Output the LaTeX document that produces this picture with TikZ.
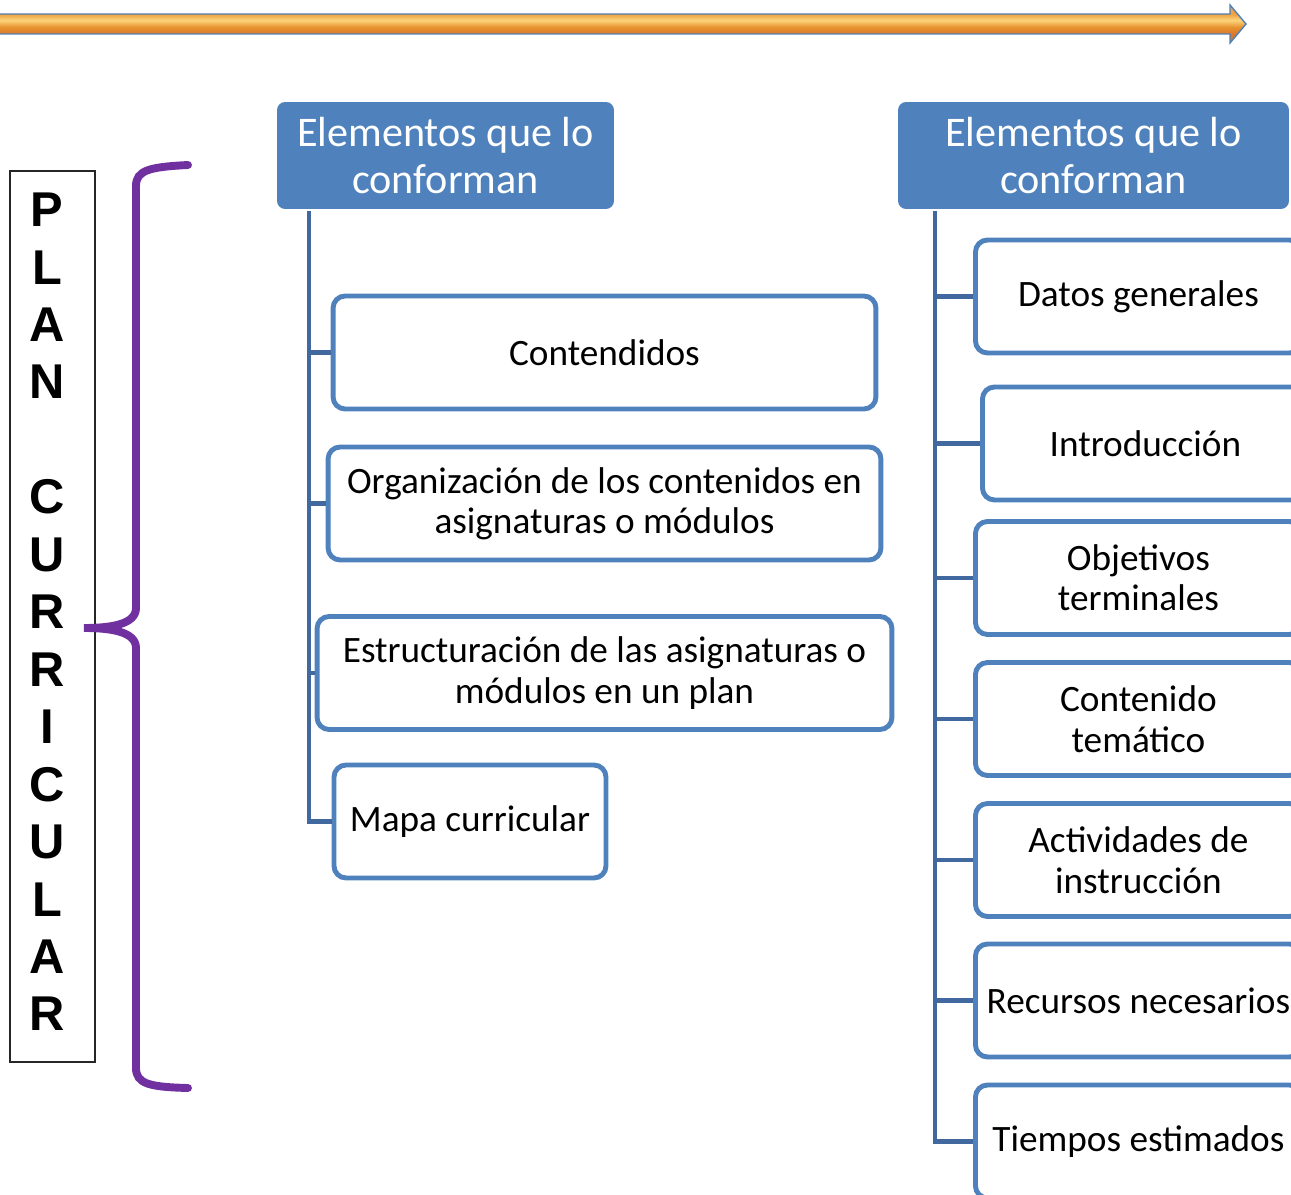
\documentclass[tikz,border=0pt]{standalone}
\usepackage{fontspec}
\setmainfont{Carlito}
\newfontfamily\arialfont{Liberation Sans}
\definecolor{azulcaja}{HTML}{4F81BD}
\definecolor{azulrama}{HTML}{41699F}
\definecolor{morado}{HTML}{7030A0}
\definecolor{flechaarr}{HTML}{EFA040}
\definecolor{flechamed}{HTML}{FBD47C}
\definecolor{flechanar}{HTML}{E8932F}
\definecolor{flechaab}{HTML}{D9782A}
\pgfdeclareverticalshading{flecha}{100bp}{color(0bp)=(flechaab); color(37bp)=(flechaab);
  color(46bp)=(flechanar); color(55bp)=(flechamed); color(63bp)=(flechaarr); color(100bp)=(flechaarr)}
\begin{document}
\begin{tikzpicture}[x=0.02cm,y=-0.02cm]
\tikzset{
    titulo/.style={fill=azulcaja, rounded corners=0.16cm, text=white, align=center,
        inner sep=0pt, minimum height=2.14cm, font=\fontsize{24}{26.6}\selectfont},
    caja/.style={draw=azulcaja, line width=2.8pt, fill=white, rounded corners=0.24cm,
        align=center, inner sep=0pt, minimum height=2.26cm, font=\fontsize{21.2}{23}\selectfont},
    cajader/.style={caja, anchor=west, minimum width=6.52cm},
    rama/.style={draw=azulrama, line width=2.8pt}
}
\clip (0,0) rectangle (1291,1195);
% flecha superior
\path[draw=azulcaja, line width=0.8pt, shading=flecha]
  (-5,14) -- (1230,14) -- (1230,5) -- (1246,24) -- (1230,43) -- (1230,34) -- (-5,34) -- cycle;
% columna de letras
\draw[black!85, line width=0.8pt] (10,171) rectangle (95,1062);
\node[align=center, inner sep=0pt, font=\arialfont\bfseries\fontsize{27.8}{32.7}\selectfont] (plan) at (47,612)
  {P\\L\\A\\N\\\mbox{}\\C\\U\\R\\R\\I\\C\\U\\L\\A\\R};
% llave
\draw[morado, line width=4.5pt, line cap=round]
  (188,165) .. controls (150,167) and (136,170) .. (136,186) -- (136,608)
  .. controls (136,624) and (112,628) .. (84,628)
  .. controls (112,628) and (136,632) .. (136,648) -- (136,1068)
  .. controls (136,1084) and (150,1087) .. (188,1088);
% rama izquierda
\node[titulo, minimum width=6.74cm] (hizq) at (445.5,155.5) {Elementos que lo\\conforman};
\node[caja, minimum width=10.86cm] (cont) at (604.5,352.5) {Contendidos};
\node[caja, minimum width=11.06cm] (org) at (604.5,503.5) {Organización de los contenidos en\\asignaturas o módulos};
\node[caja, minimum width=11.5cm] (estr) at (604.5,673) {Estructuración de las asignaturas o\\módulos en un plan};
\node[caja, minimum width=5.44cm] (mapa) at (470,821.5) {Mapa curricular};
\coordinate (tizq) at (309,211);
\draw[rama] (tizq) |- (mapa.west);
\foreach \n in {cont,org,estr}
  \draw[rama] (tizq |- \n.west) -- (\n.west);
% rama derecha
\node[titulo, minimum width=7.82cm] (hder) at (1093.5,155.5) {Elementos que lo\\conforman};
\node[cajader] (datos) at (973,296.5) {Datos generales};
\node[cajader] (intro) at (980,443.5) {Introducción};
\node[cajader] (obj) at (973,578) {Objetivos\\terminales};
\node[cajader] (tema) at (973,719) {Contenido\\temático};
\node[cajader] (act) at (973,860) {Actividades de\\instrucción};
\node[cajader] (rec) at (973,1000.5) {Recursos necesarios};
\node[cajader] (tiem) at (973,1141.5) {Tiempos estimados};
\coordinate (tder) at (935,211);
\draw[rama] (tder) |- (tiem.west);
\foreach \n in {datos,intro,obj,tema,act,rec}
  \draw[rama] (tder |- \n.west) -- (\n.west);
\end{tikzpicture}
\end{document}
